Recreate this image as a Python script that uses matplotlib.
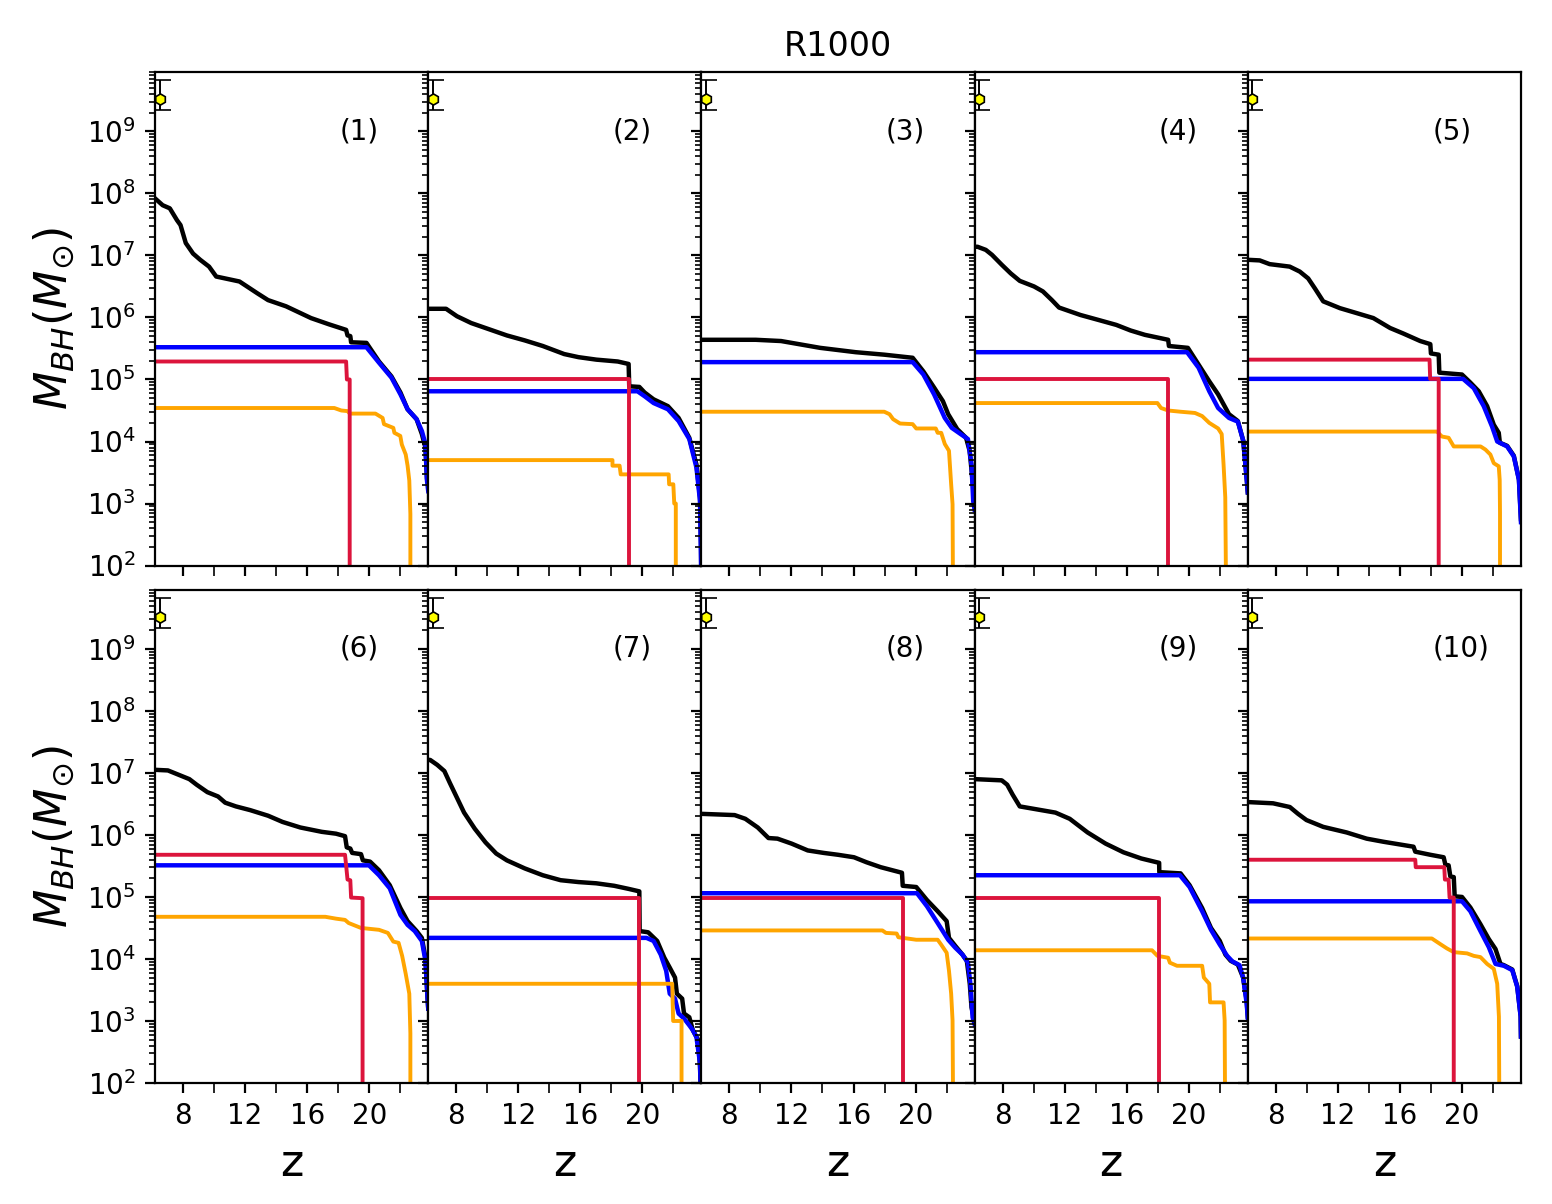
import numpy as np
import matplotlib
matplotlib.use('Agg')
import matplotlib.pyplot as plt
from matplotlib.ticker import MultipleLocator, LogLocator, NullFormatter

# (z, log10 M_BH), one list per line and panel
tot1 = [(6.2,7.92),(6.69,7.81),(7.15,7.76),(7.61,7.57),(7.84,7.49),(8.18,7.20),(8.65,7.03),(9.11,6.93),(9.68,6.82),(10.14,6.66),(11.64,6.58),(12.79,6.39),(13.48,6.28),(14.64,6.18),(16.25,5.99),(17.40,5.89),(18.51,5.80),(18.60,5.71),(18.78,5.70),(18.83,5.60),(19.82,5.59),(20.63,5.29),(21.43,5.05),(22.01,4.79),(22.47,4.52),(23.05,4.36),(23.39,4.12),(23.62,3.90),(23.72,3.40),(23.8,3.3)]
blue1 = [(6.2,5.52),(19.82,5.52),(20.63,5.27),(21.43,5.03),(22.01,4.76),(22.47,4.52),(23.05,4.36),(23.39,4.17),(23.62,3.96),(23.72,3.37),(23.8,3.2)]
red1 = [(6.2,5.29),(18.51,5.29),(18.56,5.0),(18.74,5.0),(18.74,1.0)]
orange1 = [(6.2,4.54),(17.75,4.54),(18.2,4.50),(18.6,4.49),(18.75,4.45),(20.4,4.45),(20.86,4.38),(20.95,4.28),(21.55,4.22),(21.62,4.14),(22.0,4.09),(22.1,3.95),(22.35,3.79),(22.47,3.61),(22.58,3.37),(22.65,2.83),(22.65,1.0)]

tot2 = [(6.2,6.14),(7.35,6.14),(8.05,6.02),(8.97,5.91),(10.12,5.81),(11.27,5.71),(12.42,5.63),(13.58,5.54),(14.96,5.41),(15.88,5.36),(17.03,5.32),(18.41,5.29),(19.11,5.25),(19.15,4.89),(19.80,4.88),(20.14,4.79),(20.72,4.68),(21.64,4.57),(22.33,4.38),(23.02,4.06),(23.48,3.63),(23.71,3.10),(23.78,2.29),(23.8,1.0)]
blue2 = [(6.2,4.81),(19.68,4.81),(20.14,4.73),(20.72,4.62),(21.64,4.52),(22.33,4.33),(23.02,4.04),(23.48,3.58),(23.71,3.04),(23.78,2.0),(23.8,1.0)]
red2 = [(6.2,5.0),(19.15,5.0),(19.15,1.0)]
orange2 = [(6.2,3.70),(18.07,3.70),(18.07,3.61),(18.53,3.61),(18.6,3.47),(21.69,3.47),(21.72,3.31),(21.99,3.31),(22.05,3.0),(22.15,3.0),(22.15,1.0)]

tot3 = [(6.2,5.64),(9.7,5.64),(11.33,5.62),(13.85,5.51),(16.14,5.44),(17.98,5.40),(19.81,5.35),(20.5,5.13),(21.19,4.87),(21.76,4.65),(22.1,4.44),(22.68,4.20),(23.25,4.06),(23.48,3.85),(23.67,3.37),(23.8,3.0)]
blue3 = [(6.2,5.28),(19.81,5.28),(20.5,5.08),(21.19,4.76),(21.88,4.38),(22.33,4.22),(22.9,4.12),(23.37,4.04),(23.6,3.63),(23.71,3.04),(23.8,2.9)]
red3 = []
orange3 = [(6.2,4.48),(17.98,4.48),(18.32,4.44),(18.55,4.36),(19.0,4.29),(19.81,4.28),(20.04,4.21),(21.3,4.21),(21.42,4.14),(21.65,4.14),(21.88,3.96),(22.15,3.85),(22.29,3.31),(22.38,2.99),(22.42,1.0)]

tot4 = [(6.2,7.14),(6.39,7.14),(6.92,7.09),(7.32,7.01),(7.95,6.85),(8.53,6.71),(9.11,6.59),(10.03,6.50),(10.6,6.42),(11.18,6.28),(11.64,6.16),(13.02,6.04),(14.18,5.96),(15.33,5.88),(16.25,5.79),(17.17,5.72),(18.67,5.64),(18.72,5.54),(19.94,5.51),(20.63,5.24),(21.32,4.97),(21.89,4.76),(22.24,4.60),(22.59,4.44),(23.16,4.33),(23.51,4.01),(23.74,3.37),(23.8,3.18)]
blue4 = [(6.2,5.44),(19.89,5.44),(20.63,5.19),(21.32,4.81),(21.89,4.54),(22.59,4.38),(23.16,4.32),(23.51,4.01),(23.74,3.37),(23.8,3.18)]
red4 = [(6.2,5.0),(18.67,5.0),(18.67,1.0)]
orange4 = [(6.2,4.62),(17.98,4.62),(18.21,4.54),(18.67,4.50),(19.47,4.48),(20.4,4.46),(20.86,4.41),(21.32,4.30),(21.89,4.21),(22.12,4.12),(22.24,3.63),(22.35,3.10),(22.42,1.0)]

tot5 = [(6.2,6.93),(6.97,6.92),(7.61,6.86),(8.9,6.82),(9.55,6.74),(10.09,6.63),(10.52,6.47),(11.06,6.26),(12.14,6.15),(13.22,6.07),(14.29,5.99),(15.37,5.83),(16.23,5.74),(17.31,5.62),(17.96,5.57),(18.0,5.42),(18.5,5.40),(18.54,5.11),(20.0,5.08),(20.54,4.95),(21.08,4.81),(21.62,4.57),(22.05,4.27),(22.37,4.14),(22.44,3.98),(22.91,3.93),(23.34,3.77),(23.67,3.39),(23.8,2.75)]
blue5 = [(6.2,5.01),(20.07,5.01),(20.76,4.86),(21.4,4.57),(21.94,4.24),(22.27,4.0),(22.91,3.92),(23.34,3.76),(23.67,3.38),(23.8,2.7)]
red5 = [(6.2,5.32),(17.91,5.32),(17.95,5.01),(18.5,5.01),(18.5,1.0)]
orange5 = [(6.2,4.16),(18.39,4.16),(18.71,4.08),(19.14,4.06),(19.47,3.92),(21.2,3.92),(21.51,3.87),(21.83,3.79),(22.05,3.65),(22.37,3.60),(22.43,3.38),(22.45,2.85),(22.45,1.0)]

tot6 = [(6.2,7.05),(7.03,7.04),(7.72,6.97),(8.41,6.90),(8.88,6.81),(9.57,6.69),(10.26,6.62),(10.72,6.52),(11.41,6.46),(12.33,6.40),(13.48,6.31),(14.41,6.21),(15.56,6.12),(16.94,6.05),(17.86,6.02),(18.44,5.98),(18.55,5.80),(18.78,5.78),(18.9,5.71),(19.47,5.69),(19.59,5.59),(20.05,5.57),(20.63,5.43),(21.32,5.19),(22.01,4.82),(22.47,4.61),(23.05,4.45),(23.39,4.34),(23.62,4.02),(23.74,3.44),(23.8,3.2)]
blue6 = [(6.2,5.51),(19.98,5.51),(20.63,5.35),(21.32,5.14),(22.01,4.71),(22.47,4.55),(22.93,4.45),(23.39,4.29),(23.62,3.97),(23.74,3.44),(23.8,3.2)]
red6 = [(6.2,5.68),(18.44,5.68),(18.51,5.51),(18.6,5.28),(18.78,5.27),(18.83,4.99),(19.57,4.98),(19.57,1.0)]
orange6 = [(6.2,4.68),(17.17,4.68),(17.86,4.65),(18.44,4.63),(18.67,4.58),(19.47,4.50),(20.63,4.47),(21.2,4.42),(21.55,4.28),(21.89,4.26),(22.12,4.05),(22.35,3.76),(22.58,3.44),(22.65,2.80),(22.65,1.0)]

tot7 = [(6.2,7.21),(6.32,7.21),(6.78,7.13),(7.24,7.03),(7.59,6.84),(8.05,6.60),(8.51,6.36),(9.2,6.10),(9.89,5.88),(10.58,5.70),(11.27,5.59),(12.42,5.46),(13.58,5.35),(14.73,5.27),(15.88,5.24),(17.03,5.22),(18.18,5.18),(19.11,5.13),(19.8,5.09),(19.82,4.45),(20.37,4.43),(20.95,4.29),(21.41,4.02),(21.76,3.86),(22.1,3.70),(22.22,3.44),(22.56,3.36),(22.68,3.12),(23.02,3.06),(23.25,2.85),(23.6,2.69),(23.71,2.27),(23.8,1.5)]
blue7 = [(6.2,4.34),(20.26,4.34),(20.72,4.29),(21.18,4.07),(21.53,3.81),(21.76,3.44),(22.1,3.36),(22.33,3.12),(22.68,3.04),(23.02,2.93),(23.25,2.85),(23.48,2.74),(23.71,2.32),(23.8,1.5)]
red7 = [(6.2,4.99),(19.8,4.99),(19.8,1.0)]
orange7 = [(6.2,3.60),(21.92,3.60),(21.98,3.0),(22.52,3.0),(22.52,1.0)]

tot8 = [(6.2,6.34),(8.34,6.32),(9.03,6.26),(9.83,6.12),(10.52,5.95),(11.1,5.94),(12.01,5.86),(13.05,5.75),(14.08,5.71),(15.0,5.68),(16.03,5.64),(16.83,5.56),(17.75,5.48),(19.12,5.39),(19.17,5.18),(20.04,5.16),(20.73,4.95),(21.42,4.77),(22.0,4.61),(22.15,4.34),(22.56,4.21),(23.02,4.07),(23.3,3.97),(23.49,3.6),(23.6,3.22),(23.8,3.0)]
blue8 = [(6.2,5.06),(20.09,5.06),(20.73,4.85),(21.42,4.58),(22.1,4.31),(22.56,4.18),(23.02,4.07),(23.37,3.94),(23.53,3.60),(23.67,3.06),(23.8,2.95)]
red8 = [(6.2,4.99),(19.17,4.99),(19.17,1.0)]
orange8 = [(6.2,4.46),(17.86,4.46),(18.09,4.42),(18.78,4.41),(18.89,4.35),(20.04,4.31),(21.42,4.31),(21.65,4.23),(22.0,4.10),(22.15,3.81),(22.29,3.44),(22.38,3.01),(22.43,1.0)]

tot9 = [(6.2,6.90),(7.95,6.88),(8.3,6.81),(8.65,6.65),(9.11,6.46),(10.26,6.41),(11.41,6.36),(12.33,6.26),(13.48,6.04),(14.64,5.86),(15.79,5.72),(16.94,5.62),(18.09,5.55),(18.1,5.40),(19.47,5.38),(20.05,5.19),(20.86,4.82),(21.43,4.50),(22.0,4.29),(22.36,4.07),(22.7,3.97),(23.16,3.91),(23.5,3.70),(23.73,3.33),(23.8,3.07)]
blue9 = [(6.2,5.35),(19.43,5.35),(20.05,5.16),(20.86,4.77),(21.43,4.47),(22.0,4.23),(22.47,4.05),(22.81,3.96),(23.27,3.90),(23.5,3.70),(23.73,3.28),(23.8,3.05)]
red9 = [(6.2,4.99),(18.05,4.99),(18.05,1.0)]
orange9 = [(6.2,4.14),(17.63,4.14),(17.98,4.05),(18.67,4.02),(18.78,3.94),(19.24,3.89),(20.86,3.89),(20.97,3.70),(21.32,3.60),(21.37,3.30),(22.24,3.30),(22.31,3.01),(22.35,1.0)]

tot10 = [(6.2,6.53),(7.83,6.51),(8.91,6.45),(9.44,6.34),(9.98,6.24),(11.06,6.13),(12.57,6.04),(13.86,5.94),(14.94,5.89),(16.88,5.81),(16.99,5.73),(17.96,5.68),(18.82,5.64),(18.93,5.52),(19.14,5.51),(19.25,5.33),(19.47,5.32),(19.53,5.01),(20.0,5.0),(20.54,4.83),(21.19,4.56),(21.73,4.32),(22.16,4.16),(22.48,3.92),(22.7,3.90),(23.24,3.83),(23.56,3.56),(23.78,3.08),(23.8,2.75)]
blue10 = [(6.2,4.93),(20.0,4.93),(20.54,4.77),(21.19,4.45),(21.73,4.19),(22.16,3.92),(22.7,3.89),(23.24,3.82),(23.56,3.55),(23.78,3.07),(23.8,2.75)]
red10 = [(6.2,5.60),(16.99,5.60),(17.02,5.48),(18.86,5.48),(18.9,5.28),(19.14,5.28),(19.2,4.99),(19.47,4.99),(19.47,1.0)]
orange10 = [(6.2,4.33),(18.06,4.33),(18.6,4.24),(19.03,4.17),(19.47,4.11),(20.33,4.09),(20.76,4.05),(21.19,4.03),(21.62,3.92),(22.05,3.84),(22.27,3.60),(22.38,3.07),(22.42,1.0)]

# observed quasar shown in every panel
qso_z = 6.5
qso_m = 3.3e9
qso_err = [[1.1e9], [3.4e9]]

panels = [
    (tot1, blue1, red1, orange1, '(1)'),
    (tot2, blue2, red2, orange2, '(2)'),
    (tot3, blue3, red3, orange3, '(3)'),
    (tot4, blue4, red4, orange4, '(4)'),
    (tot5, blue5, red5, orange5, '(5)'),
    (tot6, blue6, red6, orange6, '(6)'),
    (tot7, blue7, red7, orange7, '(7)'),
    (tot8, blue8, red8, orange8, '(8)'),
    (tot9, blue9, red9, orange9, '(9)'),
    (tot10, blue10, red10, orange10, '(10)'),
]


def draw(ax, pts, color, lw=1.5):
    if len(pts) == 0:
        return
    arr = np.array(pts)
    ax.plot(arr[:, 0], 10**arr[:, 1], color=color, lw=lw)


fig, axes = plt.subplots(2, 5, figsize=(7.76, 6.02), sharex=True, sharey=True)
fig.subplots_adjust(left=0.0999, right=0.980, top=0.940, bottom=0.1005,
                    wspace=0.0, hspace=0.049)

for ax, (tot, blue, red, orange, lab) in zip(axes.flat, panels):
    draw(ax, tot, 'k', 1.6)
    draw(ax, blue, 'b', 1.6)
    draw(ax, orange, 'orange', 1.4)
    draw(ax, red, 'crimson', 1.4)
    ax.errorbar(qso_z, qso_m, yerr=qso_err, fmt='h', color='k', mfc='yellow',
                mec='k', ms=4, mew=0.6, capsize=4, elinewidth=0.7, capthick=0.7)
    ax.text(0.675, 0.88, lab, transform=ax.transAxes, fontsize=10,
            ha='left', va='center')
    ax.set_yscale('log')
    ax.set_xlim(6.2, 23.8)
    ax.set_ylim(1e2, 9e9)
    ax.xaxis.set_major_locator(MultipleLocator(4))
    ax.xaxis.set_minor_locator(MultipleLocator(2))
    ax.tick_params(axis='x', which='minor', length=3.5)
    ax.set_yticks(10.0**np.arange(2, 10))
    ax.yaxis.set_minor_locator(LogLocator(base=10, subs=np.arange(2, 10), numticks=100))
    ax.yaxis.set_minor_formatter(NullFormatter())
    ax.set_ylim(1e2, 9e9)

for ax in axes[1]:
    ax.set_xlabel('z', fontsize=16)
for ax in axes[:, 0]:
    ax.set_ylabel(r'$M_{BH}(M_{\odot})$', fontsize=16)

axes[0, 2].set_title('R1000')

plt.savefig('out.png', dpi=200)
